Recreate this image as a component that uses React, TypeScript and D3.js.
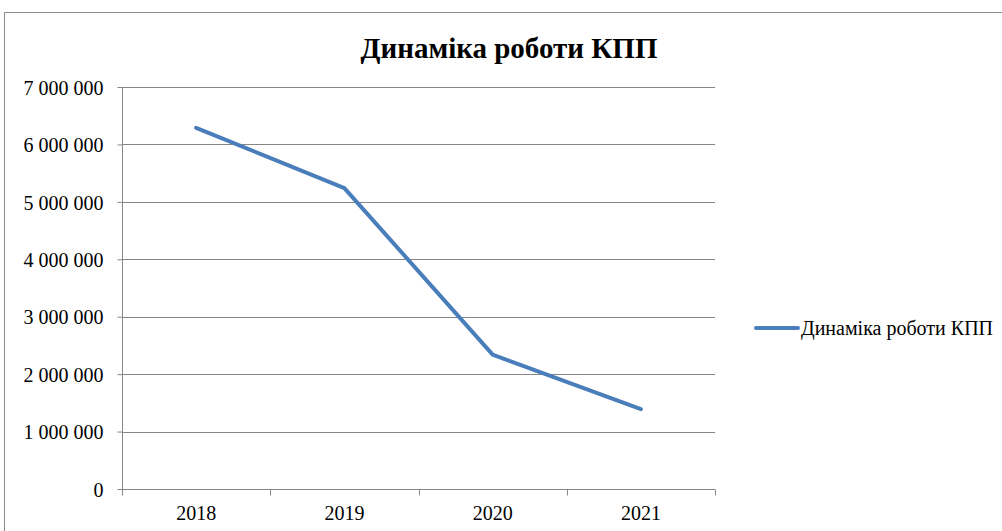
import React, { useEffect, useRef } from "react";
import * as d3 from "d3";

const years = ["2018", "2019", "2020", "2021"];
const values = [6290000, 5240000, 2340000, 1390000];
const yTicks = [0, 1000000, 2000000, 3000000, 4000000, 5000000, 6000000, 7000000];
const seriesName = "Динаміка роботи КПП";
const title = "Динаміка роботи КПП";

const App: React.FC = () => {
  const ref = useRef<SVGSVGElement>(null);

  useEffect(() => {
    const width = 1002;
    const height = 531;
    const margin = { top: 87, right: 287, bottom: 42, left: 122 };
    const font = "'Liberation Serif', 'Times New Roman', Times, serif";
    const grey = "#868686";

    const svg = d3.select(ref.current);
    svg.selectAll("*").remove();
    svg.attr("width", width).attr("height", height).style("font-family", font);

    // outer chart border
    svg
      .append("rect")
      .attr("x", 4.5)
      .attr("y", 12.5)
      .attr("width", width + 10)
      .attr("height", height)
      .attr("fill", "#fff")
      .attr("stroke", "#8c8c8c")
      .attr("stroke-width", 1);

    const x = d3
      .scaleBand()
      .domain(years)
      .range([margin.left, width - margin.right]);

    const y = d3
      .scaleLinear()
      .domain([0, 7000000])
      .range([height - margin.bottom, margin.top]);

    const fmt = (v: number) => d3.format(",")(v).replace(/,/g, " ");

    // gridlines
    svg
      .append("g")
      .selectAll("line")
      .data(yTicks.filter((d) => d > 0))
      .enter()
      .append("line")
      .attr("x1", margin.left)
      .attr("x2", width - margin.right)
      .attr("y1", (d) => Math.round(y(d)) + 0.5)
      .attr("y2", (d) => Math.round(y(d)) + 0.5)
      .attr("stroke", grey)
      .attr("stroke-width", 1);

    // y axis
    const yAxis = svg
      .append("g")
      .attr("transform", `translate(${margin.left + 0.5},0)`)
      .call(
        d3
          .axisLeft(y)
          .tickValues(yTicks)
          .tickSize(5)
          .tickPadding(14)
          .tickFormat((d) => fmt(d as number))
      );
    yAxis.attr("font-family", null).attr("font-size", null);
    yAxis.select(".domain").attr("stroke", grey).attr("d", `M0,${y(0)}V${y(7000000)}`);
    yAxis.selectAll(".tick line").attr("stroke", grey);
    yAxis
      .selectAll(".tick text")
      .attr("fill", "#000")
      .attr("dy", "0.36em")
      .style("font-family", font)
      .style("font-size", "20px");

    // x axis
    const xAxis = svg
      .append("g")
      .attr("transform", `translate(0,${Math.round(y(0)) + 0.5})`)
      .call(d3.axisBottom(x).tickSize(0).tickPadding(16));
    xAxis.attr("font-family", null).attr("font-size", null);
    xAxis.select(".domain").attr("stroke", grey).attr("d", `M${margin.left},0H${width - margin.right}`);
    xAxis
      .selectAll(".tick text")
      .attr("fill", "#000")
      .style("font-family", font)
      .style("font-size", "20px");
    xAxis
      .append("g")
      .selectAll("line")
      .data(years.map((d) => (x(d) ?? 0) + x.bandwidth()).concat([margin.left]))
      .enter()
      .append("line")
      .attr("x1", (d) => Math.round(d) + 0.5)
      .attr("x2", (d) => Math.round(d) + 0.5)
      .attr("y1", 0)
      .attr("y2", 6)
      .attr("stroke", grey);

    // series line
    const pts = years.map((yr, i) => ({ yr, v: values[i] }));
    const line = d3
      .line<{ yr: string; v: number }>()
      .x((d) => (x(d.yr) ?? 0) + x.bandwidth() / 2)
      .y((d) => y(d.v));

    svg
      .append("path")
      .datum(pts)
      .attr("fill", "none")
      .attr("stroke", "#4a7ebb")
      .attr("stroke-width", 4)
      .attr("stroke-linecap", "round")
      .attr("stroke-linejoin", "round")
      .attr("d", line);

    // title
    svg
      .append("text")
      .attr("x", 509)
      .attr("y", 58)
      .attr("text-anchor", "middle")
      .style("font-family", font)
      .style("font-size", "29px")
      .style("font-weight", "700")
      .text(title);

    // legend
    const lg = svg.append("g").attr("transform", "translate(756,328)");
    lg.append("line")
      .attr("x1", 0)
      .attr("x2", 42)
      .attr("stroke", "#4a7ebb")
      .attr("stroke-width", 4)
      .attr("stroke-linecap", "round");
    lg.append("text")
      .attr("x", 45)
      .attr("y", 6.5)
      .style("font-family", font)
      .style("font-size", "20px")
      .text(seriesName);
  }, []);

  return (
    <div style={{ position: "fixed", left: 0, top: 0 }}>
      <svg ref={ref} style={{ display: "block" }}></svg>
    </div>
  );
};

export default App;
